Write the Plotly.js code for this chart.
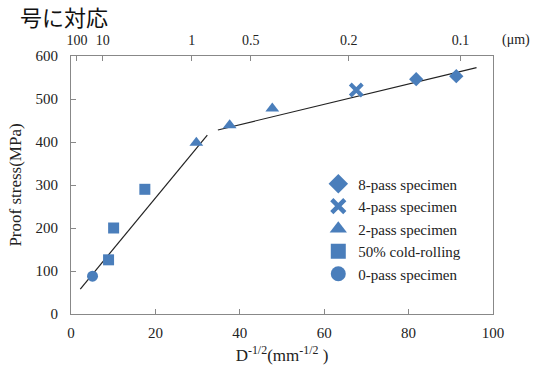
<!DOCTYPE html>
<html>
<head>
<meta charset="utf-8">
<script src="https://cdn.plot.ly/plotly-3.0.1.min.js"></script>
<style>html,body{margin:0;padding:0;background:#fff;}#chart{width:549px;height:366px;}</style>
</head>
<body>
<div id="chart"></div>
<script>
// Data
const seriesNames = ["8-pass specimen", "4-pass specimen", "2-pass specimen", "50% cold-rolling", "0-pass specimen"];
const seriesSymbols = ["diamond", "x-thin-open", "triangle-up", "square", "circle"];
const pass8X = [81.8, 91.3];
const pass8Y = [546, 553];
const pass4X = [67.6];
const pass4Y = [521];
const pass2X = [29.7, 37.6, 47.7];
const pass2Y = [398, 439, 478];
const coldX = [8.9, 10.1, 17.5];
const coldY = [126, 200, 290];
const pass0X = [5.1];
const pass0Y = [88];
const fit1X = [2.2, 32.3];
const fit1Y = [58, 416];
const fit2X = [34.8, 96.1];
const fit2Y = [428, 573];
// top axis: grain size (um) labels and their positions on the D^-1/2 scale as drawn
const topTickLabels = ["100", "10", "1", "0.5", "0.2", "0.1"];
const topTickPos = [1.4, 7.5, 28.6, 42.6, 65.8, 92.3];

const blue = "#4a7ebb";
const serif = "Liberation Serif, Times New Roman, serif";

const xs = [pass8X, pass4X, pass2X, coldX, pass0X];
const ys = [pass8Y, pass4Y, pass2Y, coldY, pass0Y];
const sizes = [11, 12, 12, 11, 11];

const traces = [];
// fit lines
traces.push({x: fit1X, y: fit1Y, mode: "lines", line: {color: "#222", width: 1.2}, showlegend: false, hoverinfo: "skip"});
traces.push({x: fit2X, y: fit2Y, mode: "lines", line: {color: "#222", width: 1.2}, showlegend: false, hoverinfo: "skip"});
for (let i = 0; i < seriesNames.length; i++) {
  const sym = seriesSymbols[i];
  const isX = sym === "x-thin-open";
  traces.push({
    x: xs[i], y: ys[i], mode: "markers", name: seriesNames[i], showlegend: false,
    marker: isX ? {symbol: "x-thin-open", size: sizes[i], line: {color: blue, width: 4}, color: blue}
                : {symbol: sym, size: sizes[i], color: blue}
  });
  // legend-only entries with larger symbols
  traces.push({
    x: [null], y: [null], mode: "markers", name: seriesNames[i], showlegend: true,
    marker: isX ? {symbol: "x-thin-open", size: 13, line: {color: blue, width: 4.5}, color: blue}
                : {symbol: sym, size: 15, color: blue}
  });
}
// invisible trace to activate the top axis
traces.push({x: [0, 100], y: [0, 0], xaxis: "x2", mode: "markers", marker: {opacity: 0}, showlegend: false, hoverinfo: "skip"});

const layout = {
  width: 549, height: 366,
  margin: {l: 71, r: 56, t: 56, b: 52},
  paper_bgcolor: "#fff", plot_bgcolor: "#fff",
  font: {family: serif, size: 15, color: "#222"},
  showlegend: true,
  legend: {x: 0.586, y: 0.568, xanchor: "left", yanchor: "top", font: {family: serif, size: 15, color: "#222"},
           bgcolor: "rgba(0,0,0,0)", tracegroupgap: 0},
  xaxis: {range: [0, 100], tickvals: [0, 20, 40, 60, 80, 100], ticks: "inside", ticklen: 5, tickcolor: "#888",
          showline: true, linecolor: "#888", linewidth: 1, mirror: true, showgrid: false, zeroline: false,
          ticklabelstandoff: 5,
          tickfont: {family: serif, size: 15, color: "#222"},
          title: {text: "D<sup>-1/2</sup>(mm<sup>-1/2</sup> )", font: {family: serif, size: 17, color: "#222"}, standoff: 9}},
  xaxis2: {range: [0, 100], overlaying: "x", side: "top", tickvals: topTickPos, ticktext: topTickLabels,
           ticks: "inside", ticklen: 5, tickcolor: "#888", showline: false, showgrid: false, zeroline: false,
           ticklabelstandoff: 7,
           tickfont: {family: serif, size: 14, color: "#222"}},
  yaxis: {range: [0, 600], dtick: 100, ticks: "inside", ticklen: 5, tickcolor: "#888",
          showline: true, linecolor: "#888", linewidth: 1, mirror: true, showgrid: false, zeroline: false,
          ticklabelstandoff: 9,
          tickfont: {family: serif, size: 15, color: "#222"},
          title: {text: "Proof stress(MPa)", font: {family: serif, size: 17, color: "#222"}, standoff: 9}},
  annotations: [
    {text: "号に対応", xref: "paper", yref: "paper", x: -0.126, y: 1.155, xanchor: "left", yanchor: "middle",
     showarrow: false, font: {family: "Noto Sans CJK JP", size: 22, color: "#111"}},
    {text: "(μm)", xref: "paper", yref: "paper", x: 1.016, y: 1.0, xanchor: "left", yanchor: "bottom", yshift: 6,
     showarrow: false, font: {family: serif, size: 14, color: "#222"}}
  ]
};

Plotly.newPlot("chart", traces, layout, {displayModeBar: false, staticPlot: true});
</script>
</body>
</html>
